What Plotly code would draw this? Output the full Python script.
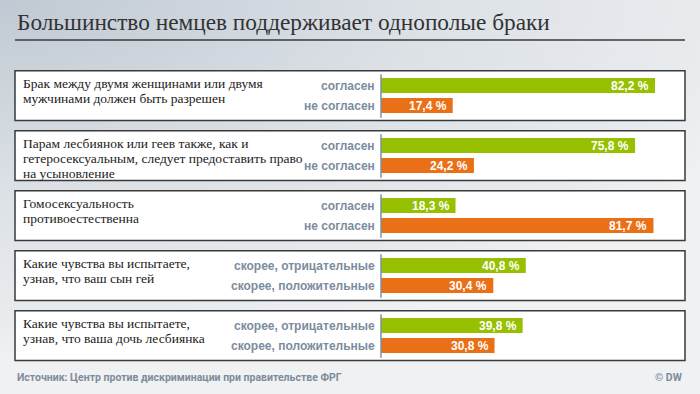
import base64
import plotly.graph_objects as go

# ---------------- data ----------------
title = "Большинство немцев поддерживает однополые браки"
questions = [
    "Брак между двумя женщинами или двумя<br>мужчинами должен быть разрешен",
    "Парам лесбиянок или геев также, как и<br>гетеросексуальным, следует предоставить право<br>на усыновление",
    "Гомосексуальность<br>противоестественна",
    "Какие чувства вы испытаете,<br>узнав, что ваш сын гей",
    "Какие чувства вы испытаете,<br>узнав, что ваша дочь лесбиянка",
]
labels_a = ["согласен", "согласен", "согласен",
            "скорее, отрицательные", "скорее, отрицательные"]
labels_b = ["не согласен", "не согласен", "не согласен",
            "скорее, положительные", "скорее, положительные"]
values_a = [82.2, 75.8, 18.3, 40.8, 39.8]
values_b = [17.4, 24.2, 81.7, 30.4, 30.8]
source = "Источник: Центр против дискриминации при правительстве ФРГ"
credit = "© DW"

# ---------------- style ----------------
W, H = 700, 394
GREEN = "#96c000"
ORANGE = "#ea7018"
LABEL_C = "#7b8c9e"
BOX_C = "#3a3a3a"
XMIN, XMAX = -5.57, 90.52        # value axis range
AX_PX0, AX_PX1 = 381, 681        # pixel extent of value axis
GROUP_STEP = 60
FIRST_A = 85.5                   # centre of first green bar (px)
BAR_GAP = 20
BAR_W = 15
BOX_TOP0 = 70.7
BOX_H = 49.8

def fmt(v):
    return f"{v:.1f}".replace(".", ",") + " %"

n = len(questions)
ya = [FIRST_A + GROUP_STEP * i for i in range(n)]
yb = [y + BAR_GAP for y in ya]

fig = go.Figure()
fig.add_trace(go.Bar(y=ya, x=[v - XMIN for v in values_a], base=XMIN,
                     orientation="h", width=BAR_W, marker_color=GREEN,
                     marker_line_width=0, hoverinfo="skip"))
fig.add_trace(go.Bar(y=yb, x=[v - XMIN for v in values_b], base=XMIN,
                     orientation="h", width=BAR_W, marker_color=ORANGE,
                     marker_line_width=0, hoverinfo="skip"))

shapes = []
ann = []
# title + rule
ann.append(dict(text=title, x=15 / W, xref="paper", xanchor="left",
                y=22, yref="y", yanchor="middle", showarrow=False,
                font=dict(family="Liberation Serif", size=23.3, color="#333333")))
shapes.append(dict(type="line", xref="paper", yref="y", x0=15 / W, x1=685 / W,
                   y0=40, y1=40, line=dict(color="#3a3a3a", width=1.5)))

for i in range(n):
    top = BOX_TOP0 + GROUP_STEP * i
    shapes.append(dict(type="rect", xref="paper", yref="y", x0=15 / W, x1=685 / W,
                       y0=top, y1=top + BOX_H, fillcolor="white",
                       line=dict(color=BOX_C, width=1.5), layer="below"))
    shapes.append(dict(type="line", xref="paper", yref="y",
                       x0=AX_PX0 / W, x1=AX_PX0 / W, y0=top + 3.5, y1=top + 47,
                       line=dict(color="#7d91a6", width=1.5)))
    for k, line in enumerate(questions[i].split("<br>")):
        ann.append(dict(text=line, x=21 / W, xref="paper", xanchor="left",
                        y=top + 13 + 15 * k, yref="y", yanchor="middle",
                        showarrow=False,
                        font=dict(family="Liberation Serif", size=13.5, color="#222222")))
    for lab, yy in ((labels_a[i], ya[i]), (labels_b[i], yb[i])):
        ann.append(dict(text=lab, x=377 / W, xref="paper", xanchor="right",
                        y=yy, yref="y", yanchor="middle", showarrow=False,
                        font=dict(family="Liberation Sans", size=12, color=LABEL_C,
                                  weight="bold")))
    for v, yy in ((values_a[i], ya[i]), (values_b[i], yb[i])):
        ann.append(dict(text=fmt(v), x=v, xref="x", xanchor="right", xshift=-4,
                        y=yy, yref="y", yanchor="middle", showarrow=False,
                        font=dict(family="Liberation Sans", size=12, color="white",
                                  weight="bold")))

ann.append(dict(text=source, x=15 / W, xref="paper", xanchor="left",
                y=377, yref="y", yanchor="middle", showarrow=False,
                font=dict(family="Roboto", size=10.5, color="#7f8c99", weight="bold")))
ann.append(dict(text=credit, x=685 / W, xref="paper", xanchor="right",
                y=377, yref="y", yanchor="middle", showarrow=False,
                font=dict(family="Roboto", size=10.5, color="#7f8c99", weight="bold")))

svg = f'''<svg xmlns="http://www.w3.org/2000/svg" width="{W}" height="{H}" viewBox="0 0 {W} {H}" preserveAspectRatio="none">
<defs><radialGradient id="g" gradientUnits="userSpaceOnUse" cx="0" cy="0" r="800"
 gradientTransform="scale(1,0.45)">
<stop offset="0" stop-color="#c0c9d3"/>
<stop offset="0.55" stop-color="#dde2e7"/>
<stop offset="0.87" stop-color="#e8ebee"/>
<stop offset="1" stop-color="#eff1f3"/>
</radialGradient></defs>
<rect width="{W}" height="{H}" fill="url(#g)"/></svg>'''
bg = "data:image/svg+xml;base64," + base64.b64encode(svg.encode()).decode()

fig.update_layout(
    width=W, height=H, margin=dict(l=0, r=0, t=0, b=0),
    paper_bgcolor="#eceef1", plot_bgcolor="rgba(0,0,0,0)",
    showlegend=False, barmode="overlay",
    xaxis=dict(range=[XMIN, XMAX], domain=[AX_PX0 / W, AX_PX1 / W],
               visible=False, fixedrange=True),
    yaxis=dict(range=[H, 0], domain=[0, 1], visible=False, fixedrange=True),
    shapes=shapes, annotations=ann,
    images=[dict(source=bg, xref="paper", yref="paper", x=0, y=1,
                 sizex=1, sizey=1, sizing="stretch", layer="below",
                 xanchor="left", yanchor="top")],
)
fig.write_html("out.html", config={"displayModeBar": False},
               post_script="document.body.style.margin='0';"
                           "document.body.style.background='#eff1f3';")
